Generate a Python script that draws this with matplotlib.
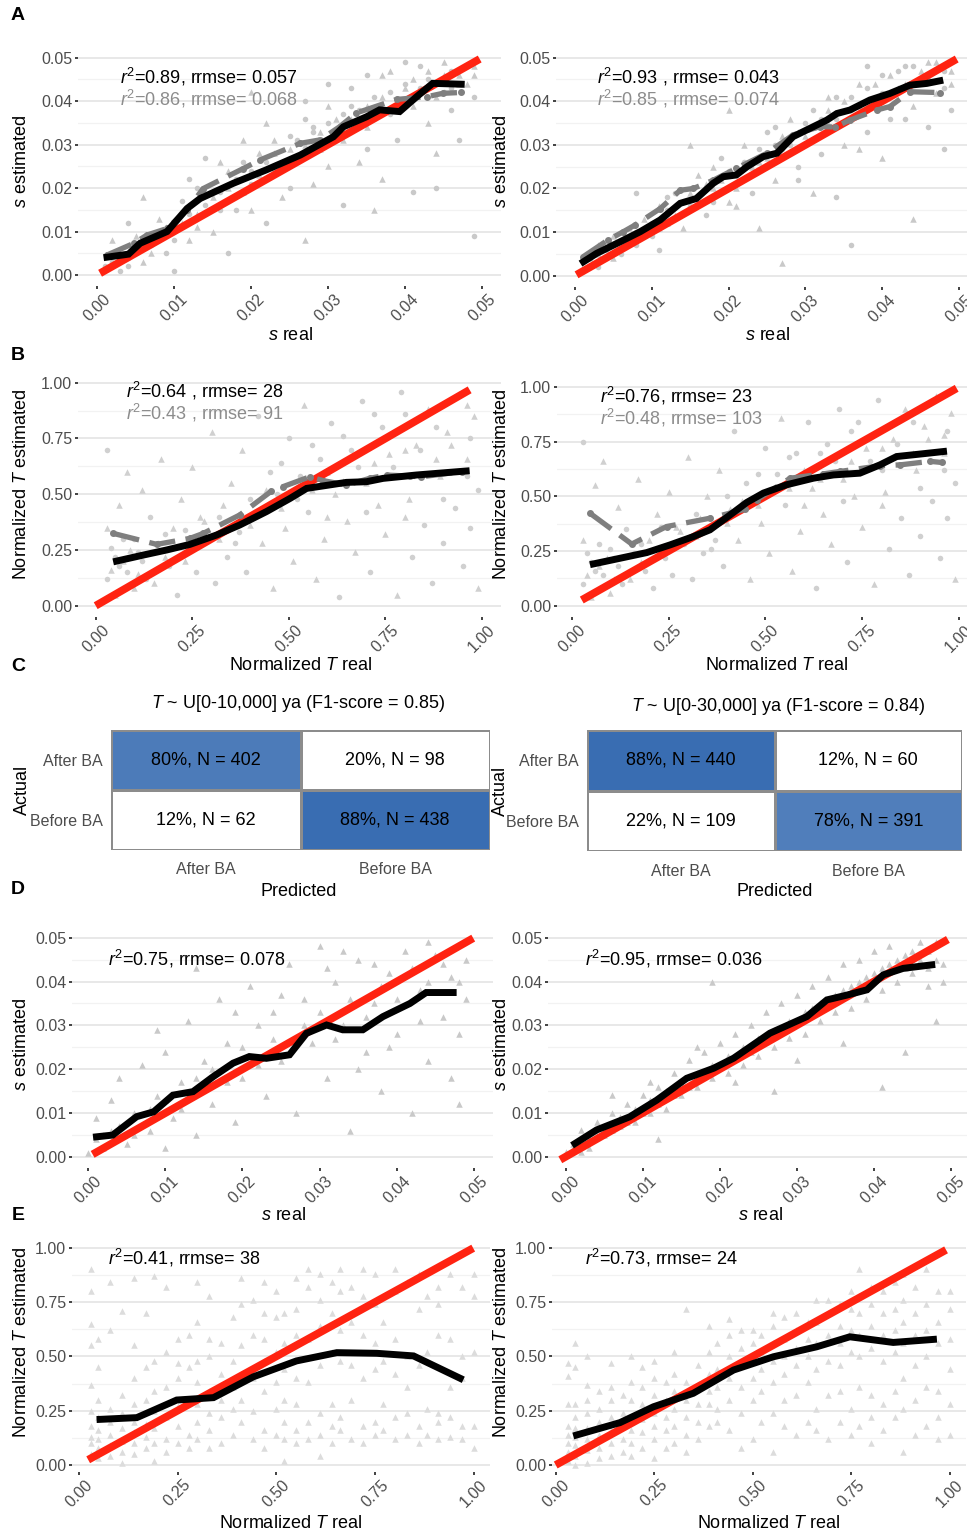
import numpy as np
import matplotlib
matplotlib.use('Agg')
import matplotlib.pyplot as plt
from matplotlib.colors import LinearSegmentedColormap

plt.rcParams['font.family'] = ['Liberation Sans', 'DejaVu Sans']
plt.rcParams['mathtext.fontset'] = 'custom'
plt.rcParams['mathtext.rm'] = 'Liberation Sans'
plt.rcParams['mathtext.it'] = 'Liberation Sans:italic'

# ---------------- data ----------------
s_ticks = [0.00, 0.01, 0.02, 0.03, 0.04, 0.05]
t_ticks = [0.00, 0.25, 0.50, 0.75, 1.00]

# panel A (left / right): binned means, black = method 1, grey dashed = method 2
A1_bx = [0.0013, 0.0041, 0.0056, 0.0091, 0.0117, 0.0134, 0.0177, 0.0220, 0.0264, 0.0307, 0.0320, 0.0350, 0.0367, 0.0393, 0.0415, 0.0436, 0.0473]
A1_by = [0.0041, 0.0048, 0.0073, 0.0100, 0.0153, 0.0176, 0.0211, 0.0242, 0.0276, 0.0318, 0.0341, 0.0364, 0.0380, 0.0376, 0.0410, 0.0441, 0.0439]
A1_gx = [0.0013, 0.0048, 0.0065, 0.0091, 0.0117, 0.0138, 0.0190, 0.0212, 0.0264, 0.0290, 0.0315, 0.0337, 0.0354, 0.0389, 0.0428, 0.0449, 0.0473]
A1_gy = [0.0046, 0.0073, 0.0092, 0.0107, 0.0150, 0.0199, 0.0245, 0.0265, 0.0303, 0.0311, 0.0341, 0.0373, 0.0383, 0.0404, 0.0410, 0.0418, 0.0420]
A2_bx = [0.0011, 0.0028, 0.0059, 0.0085, 0.0111, 0.0137, 0.0158, 0.0180, 0.0193, 0.0210, 0.0224, 0.0245, 0.0263, 0.0284, 0.0306, 0.0328, 0.0341, 0.0358, 0.0384, 0.0410, 0.0436, 0.0458, 0.0475]
A2_by = [0.0032, 0.0051, 0.0078, 0.0101, 0.0128, 0.0166, 0.0177, 0.0212, 0.0227, 0.0231, 0.0250, 0.0273, 0.0281, 0.0319, 0.0338, 0.0357, 0.0372, 0.0380, 0.0403, 0.0418, 0.0437, 0.0441, 0.0447]
A2_gx = [0.0011, 0.0043, 0.0063, 0.0078, 0.0111, 0.0137, 0.0154, 0.0180, 0.0210, 0.0250, 0.0284, 0.0319, 0.0339, 0.0358, 0.0393, 0.0410, 0.0436, 0.0475]
A2_gy = [0.0044, 0.0082, 0.0101, 0.0116, 0.0154, 0.0196, 0.0200, 0.0219, 0.0246, 0.0281, 0.0323, 0.0342, 0.0341, 0.0357, 0.0380, 0.0388, 0.0422, 0.0420]

# panel B
B1_bx = [0.054, 0.123, 0.184, 0.244, 0.313, 0.373, 0.442, 0.503, 0.546, 0.649, 0.701, 0.744, 0.830, 0.959]
B1_by = [0.200, 0.227, 0.250, 0.275, 0.317, 0.362, 0.422, 0.481, 0.526, 0.553, 0.556, 0.571, 0.586, 0.604]
B1_gx = [0.046, 0.158, 0.244, 0.278, 0.373, 0.455, 0.485, 0.554, 0.589, 0.649, 0.709, 0.753, 0.813, 0.843, 0.947]
B1_gy = [0.324, 0.275, 0.302, 0.324, 0.407, 0.514, 0.534, 0.578, 0.561, 0.541, 0.571, 0.586, 0.581, 0.578, 0.601]
B2_bx = [0.056, 0.125, 0.194, 0.254, 0.314, 0.357, 0.409, 0.452, 0.495, 0.555, 0.624, 0.676, 0.744, 0.796, 0.839, 0.908, 0.960]
B2_by = [0.191, 0.217, 0.243, 0.278, 0.316, 0.347, 0.415, 0.472, 0.515, 0.553, 0.583, 0.598, 0.606, 0.644, 0.682, 0.695, 0.705]
B2_gx = [0.047, 0.155, 0.245, 0.357, 0.448, 0.478, 0.564, 0.650, 0.693, 0.796, 0.848, 0.925, 0.955]
B2_gy = [0.423, 0.282, 0.362, 0.400, 0.441, 0.484, 0.583, 0.603, 0.614, 0.640, 0.644, 0.660, 0.655]

# panel D
D1_bx = [0.0011, 0.0032, 0.0063, 0.0085, 0.0110, 0.0136, 0.0162, 0.0188, 0.0209, 0.0231, 0.0261, 0.0283, 0.0309, 0.0330, 0.0356, 0.0382, 0.0417, 0.0438, 0.0473]
D1_by = [0.0046, 0.0050, 0.0092, 0.0103, 0.0141, 0.0149, 0.0183, 0.0214, 0.0229, 0.0225, 0.0233, 0.0282, 0.0301, 0.0290, 0.0290, 0.0320, 0.0350, 0.0375, 0.0375]
D2_bx = [0.0012, 0.0040, 0.0083, 0.0118, 0.0157, 0.0192, 0.0218, 0.0265, 0.0313, 0.0339, 0.0365, 0.0391, 0.0412, 0.0438, 0.0475]
D2_by = [0.0030, 0.0061, 0.0091, 0.0129, 0.0179, 0.0202, 0.0225, 0.0282, 0.0320, 0.0358, 0.0369, 0.0381, 0.0415, 0.0430, 0.0438]

# panel E
E1_bx = [0.054, 0.147, 0.248, 0.341, 0.442, 0.551, 0.653, 0.754, 0.847, 0.965]
E1_by = [0.210, 0.218, 0.299, 0.310, 0.406, 0.479, 0.517, 0.514, 0.502, 0.399]
E2_bx = [0.053, 0.163, 0.248, 0.349, 0.451, 0.552, 0.662, 0.746, 0.856, 0.958]
E2_by = [0.138, 0.195, 0.268, 0.330, 0.437, 0.498, 0.544, 0.590, 0.564, 0.578]

# x-range covered by the red y = x line in each panel
red_A1 = [0.0004, 0.0497]
red_A2 = [0.0002, 0.0497]
red_B1 = [0.000, 0.968]
red_B2 = [0.026, 0.994]
red_D1 = [0.0006, 0.0499]
red_D2 = [-0.0007, 0.0496]
red_E1 = [0.024, 0.998]
red_E2 = [0.000, 0.990]

# scatter clouds (hand-estimated sample of the grey points)
A1_pts = [(0.001, 0.002), (0.002, 0.005), (0.003, 0.001), (0.002, 0.008), (0.004, 0.004), (0.005, 0.009), (0.004, 0.012),
          (0.006, 0.003), (0.007, 0.007), (0.008, 0.013), (0.009, 0.005), (0.010, 0.011), (0.011, 0.017), (0.012, 0.008),
          (0.012, 0.022), (0.013, 0.014), (0.014, 0.027), (0.015, 0.010), (0.016, 0.019), (0.017, 0.024), (0.018, 0.015),
          (0.019, 0.031), (0.020, 0.021), (0.021, 0.028), (0.022, 0.012), (0.022, 0.035), (0.023, 0.024), (0.024, 0.018),
          (0.025, 0.032), (0.026, 0.027), (0.027, 0.040), (0.028, 0.021), (0.028, 0.033), (0.029, 0.029), (0.030, 0.044),
          (0.031, 0.036), (0.032, 0.016), (0.032, 0.031), (0.033, 0.039), (0.034, 0.026), (0.035, 0.046), (0.035, 0.034),
          (0.036, 0.041), (0.037, 0.022), (0.038, 0.037), (0.038, 0.047), (0.039, 0.031), (0.040, 0.043), (0.041, 0.019),
          (0.041, 0.039), (0.042, 0.048), (0.043, 0.035), (0.043, 0.045), (0.044, 0.028), (0.045, 0.042), (0.045, 0.049),
          (0.046, 0.038), (0.047, 0.046), (0.047, 0.031), (0.048, 0.044), (0.049, 0.041), (0.049, 0.048), (0.049, 0.009),
          (0.036, 0.015), (0.044, 0.020), (0.027, 0.008), (0.017, 0.005), (0.006, 0.018), (0.010, 0.001), (0.020, 0.042),
          (0.002, 0.003), (0.003, 0.004), (0.004, 0.002), (0.005, 0.006), (0.006, 0.008), (0.007, 0.005), (0.008, 0.009),
          (0.009, 0.011), (0.010, 0.008), (0.011, 0.012), (0.012, 0.014), (0.013, 0.011), (0.014, 0.016), (0.015, 0.018),
          (0.016, 0.015), (0.017, 0.020), (0.018, 0.022), (0.019, 0.019), (0.020, 0.024), (0.021, 0.023), (0.022, 0.026),
          (0.023, 0.028), (0.024, 0.025), (0.025, 0.029), (0.026, 0.031), (0.027, 0.030), (0.028, 0.034), (0.029, 0.033),
          (0.030, 0.035), (0.031, 0.033), (0.032, 0.037), (0.033, 0.036), (0.034, 0.038), (0.035, 0.039), (0.036, 0.036),
          (0.037, 0.041), (0.038, 0.042), (0.039, 0.040), (0.040, 0.044), (0.041, 0.045), (0.042, 0.043), (0.043, 0.047),
          (0.044, 0.044), (0.045, 0.046), (0.046, 0.047), (0.047, 0.044), (0.048, 0.048), (0.049, 0.046), (0.046, 0.043),
          (0.044, 0.041), (0.013, 0.020), (0.016, 0.026), (0.019, 0.026), (0.023, 0.031), (0.027, 0.036), (0.030, 0.039),
          (0.033, 0.043), (0.037, 0.046), (0.040, 0.049), (0.020, 0.015), (0.025, 0.020), (0.030, 0.025), (0.035, 0.029)]
A2_pts = [(0.001, 0.001), (0.002, 0.004), (0.003, 0.002), (0.003, 0.007), (0.004, 0.004), (0.005, 0.009), (0.006, 0.005),
          (0.007, 0.011), (0.008, 0.007), (0.009, 0.013), (0.010, 0.009), (0.011, 0.016), (0.011, 0.006), (0.012, 0.012),
          (0.013, 0.019), (0.014, 0.011), (0.015, 0.016), (0.016, 0.023), (0.017, 0.014), (0.018, 0.020), (0.019, 0.027),
          (0.020, 0.017), (0.021, 0.023), (0.022, 0.030), (0.023, 0.019), (0.024, 0.026), (0.025, 0.033), (0.026, 0.022),
          (0.027, 0.029), (0.028, 0.036), (0.029, 0.025), (0.030, 0.032), (0.031, 0.038), (0.031, 0.019), (0.032, 0.028),
          (0.033, 0.035), (0.034, 0.041), (0.035, 0.030), (0.036, 0.038), (0.037, 0.044), (0.038, 0.033), (0.039, 0.040),
          (0.040, 0.046), (0.040, 0.027), (0.041, 0.036), (0.042, 0.043), (0.043, 0.048), (0.044, 0.039), (0.045, 0.045),
          (0.046, 0.049), (0.046, 0.034), (0.047, 0.042), (0.048, 0.047), (0.049, 0.044), (0.049, 0.038), (0.024, 0.011),
          (0.034, 0.018), (0.015, 0.030), (0.008, 0.019), (0.044, 0.013), (0.036, 0.007), (0.027, 0.003), (0.048, 0.029),
          (0.020, 0.038), (0.002, 0.002), (0.003, 0.005), (0.004, 0.006), (0.005, 0.004), (0.006, 0.008), (0.007, 0.008),
          (0.008, 0.010), (0.009, 0.010), (0.010, 0.012), (0.011, 0.011), (0.012, 0.015), (0.013, 0.014), (0.014, 0.017),
          (0.015, 0.019), (0.016, 0.018), (0.017, 0.021), (0.018, 0.017), (0.019, 0.022), (0.020, 0.024), (0.021, 0.020),
          (0.022, 0.026), (0.023, 0.025), (0.024, 0.029), (0.025, 0.027), (0.026, 0.030), (0.027, 0.032), (0.028, 0.030),
          (0.029, 0.033), (0.030, 0.035), (0.031, 0.034), (0.032, 0.036), (0.033, 0.038), (0.034, 0.036), (0.035, 0.040),
          (0.036, 0.041), (0.037, 0.039), (0.038, 0.043), (0.039, 0.044), (0.040, 0.042), (0.041, 0.046), (0.042, 0.047),
          (0.043, 0.044), (0.044, 0.048), (0.045, 0.047), (0.046, 0.045), (0.047, 0.049), (0.048, 0.043), (0.049, 0.047),
          (0.012, 0.018), (0.018, 0.025), (0.026, 0.034), (0.033, 0.041), (0.038, 0.048), (0.021, 0.016), (0.029, 0.022),
          (0.037, 0.029), (0.043, 0.036)]
B1_pts = [(0.03, 0.12), (0.03, 0.35), (0.03, 0.70), (0.05, 0.05), (0.05, 0.22), (0.06, 0.45), (0.08, 0.15), (0.08, 0.60),
          (0.10, 0.30), (0.10, 0.08), (0.12, 0.20), (0.12, 0.52), (0.14, 0.40), (0.15, 0.10), (0.16, 0.28), (0.17, 0.66),
          (0.19, 0.18), (0.20, 0.35), (0.21, 0.05), (0.22, 0.48), (0.24, 0.25), (0.25, 0.62), (0.26, 0.15), (0.28, 0.38),
          (0.29, 0.30), (0.30, 0.78), (0.31, 0.10), (0.33, 0.45), (0.34, 0.22), (0.35, 0.55), (0.37, 0.33), (0.38, 0.70),
          (0.39, 0.15), (0.41, 0.42), (0.42, 0.85), (0.43, 0.28), (0.45, 0.60), (0.46, 0.08), (0.47, 0.50), (0.49, 0.35),
          (0.50, 0.75), (0.51, 0.20), (0.53, 0.58), (0.54, 0.90), (0.55, 0.42), (0.57, 0.12), (0.58, 0.66), (0.59, 0.30),
          (0.61, 0.82), (0.62, 0.50), (0.63, 0.04), (0.65, 0.38), (0.66, 0.70), (0.67, 0.24), (0.69, 0.92), (0.70, 0.55),
          (0.71, 0.15), (0.73, 0.45), (0.74, 0.80), (0.75, 0.32), (0.77, 0.62), (0.78, 0.05), (0.79, 0.96), (0.81, 0.48),
          (0.82, 0.22), (0.83, 0.72), (0.85, 0.36), (0.86, 0.88), (0.87, 0.10), (0.89, 0.58), (0.90, 0.28), (0.91, 0.78),
          (0.93, 0.44), (0.94, 0.95), (0.95, 0.18), (0.96, 0.66), (0.97, 0.35), (0.98, 0.85), (0.99, 0.52), (0.99, 0.08),
          (0.06, 0.18), (0.09, 0.25), (0.13, 0.12), (0.27, 0.40), (0.36, 0.28), (0.44, 0.52), (0.52, 0.48), (0.60, 0.60),
          (0.68, 0.62), (0.76, 0.68), (0.84, 0.70), (0.92, 0.72), (0.97, 0.75), (0.04, 0.16), (0.04, 0.26), (0.07, 0.20),
          (0.07, 0.30), (0.11, 0.14), (0.11, 0.24), (0.18, 0.22), (0.18, 0.32), (0.23, 0.20), (0.23, 0.34), (0.32, 0.30),
          (0.32, 0.40), (0.40, 0.36), (0.40, 0.48), (0.48, 0.44), (0.48, 0.64), (0.56, 0.52), (0.56, 0.72), (0.64, 0.56),
          (0.64, 0.76), (0.72, 0.64), (0.72, 0.86), (0.80, 0.70), (0.80, 0.86), (0.88, 0.66), (0.88, 0.80), (0.96, 0.90),
          (0.96, 0.58), (0.60, 0.40), (0.70, 0.42), (0.80, 0.40), (0.90, 0.48)]
B2_pts = [(0.03, 0.10), (0.03, 0.30), (0.03, 0.75), (0.05, 0.04), (0.05, 0.20), (0.06, 0.55), (0.08, 0.14), (0.08, 0.66),
          (0.10, 0.26), (0.10, 0.06), (0.12, 0.18), (0.12, 0.45), (0.14, 0.35), (0.15, 0.12), (0.16, 0.24), (0.17, 0.58),
          (0.19, 0.16), (0.20, 0.30), (0.21, 0.08), (0.22, 0.42), (0.24, 0.22), (0.25, 0.52), (0.26, 0.14), (0.28, 0.34),
          (0.29, 0.28), (0.30, 0.68), (0.31, 0.12), (0.33, 0.40), (0.34, 0.24), (0.35, 0.50), (0.37, 0.30), (0.38, 0.62),
          (0.39, 0.18), (0.41, 0.44), (0.42, 0.80), (0.43, 0.30), (0.45, 0.56), (0.46, 0.12), (0.47, 0.48), (0.49, 0.38),
          (0.50, 0.72), (0.51, 0.24), (0.53, 0.60), (0.54, 0.86), (0.55, 0.46), (0.57, 0.16), (0.58, 0.70), (0.59, 0.34),
          (0.61, 0.84), (0.62, 0.54), (0.63, 0.08), (0.65, 0.42), (0.66, 0.74), (0.67, 0.28), (0.69, 0.90), (0.70, 0.58),
          (0.71, 0.20), (0.73, 0.50), (0.74, 0.84), (0.75, 0.36), (0.77, 0.66), (0.78, 0.10), (0.79, 0.94), (0.81, 0.52),
          (0.82, 0.26), (0.83, 0.76), (0.85, 0.40), (0.86, 0.90), (0.87, 0.14), (0.89, 0.62), (0.90, 0.32), (0.91, 0.82),
          (0.93, 0.48), (0.94, 0.96), (0.95, 0.22), (0.96, 0.70), (0.97, 0.40), (0.98, 0.88), (0.99, 0.56), (0.99, 0.12),
          (0.06, 0.16), (0.09, 0.22), (0.13, 0.10), (0.27, 0.36), (0.36, 0.26), (0.44, 0.48), (0.52, 0.52), (0.60, 0.62),
          (0.68, 0.66), (0.76, 0.72), (0.84, 0.74), (0.92, 0.76), (0.97, 0.80), (0.04, 0.14), (0.04, 0.24), (0.07, 0.18),
          (0.07, 0.28), (0.11, 0.12), (0.11, 0.22), (0.18, 0.20), (0.18, 0.28), (0.23, 0.26), (0.23, 0.36), (0.32, 0.32),
          (0.32, 0.42), (0.40, 0.38), (0.40, 0.50), (0.48, 0.46), (0.48, 0.60), (0.56, 0.54), (0.56, 0.68), (0.64, 0.58),
          (0.64, 0.70), (0.72, 0.66), (0.72, 0.80), (0.80, 0.72), (0.80, 0.62), (0.88, 0.70), (0.88, 0.84), (0.96, 0.78),
          (0.96, 0.62), (0.60, 0.46), (0.70, 0.48), (0.80, 0.46), (0.90, 0.54)]
D1_pts = [(0.000, 0.001), (0.001, 0.004), (0.001, 0.009), (0.002, 0.002), (0.003, 0.006), (0.003, 0.013), (0.004, 0.018),
          (0.005, 0.003), (0.006, 0.010), (0.007, 0.021), (0.008, 0.006), (0.009, 0.014), (0.010, 0.002), (0.010, 0.024),
          (0.011, 0.009), (0.012, 0.017), (0.013, 0.031), (0.014, 0.005), (0.015, 0.022), (0.016, 0.012), (0.017, 0.036),
          (0.018, 0.026), (0.019, 0.008), (0.020, 0.018), (0.021, 0.039), (0.022, 0.030), (0.023, 0.014), (0.024, 0.033),
          (0.025, 0.022), (0.026, 0.044), (0.027, 0.010), (0.028, 0.036), (0.029, 0.026), (0.030, 0.048), (0.031, 0.018),
          (0.032, 0.040), (0.033, 0.030), (0.034, 0.006), (0.035, 0.045), (0.036, 0.024), (0.037, 0.035), (0.038, 0.015),
          (0.039, 0.042), (0.040, 0.028), (0.041, 0.047), (0.042, 0.010), (0.043, 0.038), (0.044, 0.022), (0.045, 0.046),
          (0.046, 0.032), (0.047, 0.018), (0.047, 0.041), (0.048, 0.028), (0.049, 0.045), (0.049, 0.036), (0.048, 0.012),
          (0.044, 0.049), (0.033, 0.047), (0.014, 0.043), (0.009, 0.029), (0.002, 0.005), (0.004, 0.007), (0.006, 0.005),
          (0.008, 0.011), (0.010, 0.013), (0.012, 0.011), (0.014, 0.018), (0.016, 0.020), (0.018, 0.017), (0.020, 0.025),
          (0.022, 0.021), (0.024, 0.027), (0.026, 0.024), (0.028, 0.030), (0.030, 0.033), (0.032, 0.027), (0.034, 0.036),
          (0.036, 0.032), (0.038, 0.039), (0.040, 0.036), (0.042, 0.043), (0.044, 0.040), (0.046, 0.044), (0.048, 0.040),
          (0.019, 0.033), (0.025, 0.037), (0.031, 0.043), (0.037, 0.044), (0.043, 0.031), (0.039, 0.025), (0.035, 0.020)]
D2_pts = [(0.000, 0.001), (0.001, 0.003), (0.002, 0.001), (0.002, 0.006), (0.003, 0.004), (0.004, 0.008), (0.005, 0.005),
          (0.006, 0.010), (0.007, 0.007), (0.008, 0.012), (0.009, 0.008), (0.010, 0.014), (0.011, 0.010), (0.012, 0.016),
          (0.013, 0.011), (0.014, 0.019), (0.015, 0.014), (0.016, 0.022), (0.017, 0.016), (0.018, 0.024), (0.019, 0.018),
          (0.020, 0.026), (0.021, 0.019), (0.022, 0.028), (0.023, 0.021), (0.024, 0.030), (0.025, 0.023), (0.026, 0.033),
          (0.027, 0.025), (0.028, 0.035), (0.029, 0.027), (0.030, 0.037), (0.031, 0.028), (0.032, 0.039), (0.033, 0.031),
          (0.034, 0.041), (0.035, 0.033), (0.036, 0.044), (0.037, 0.034), (0.038, 0.045), (0.039, 0.036), (0.040, 0.047),
          (0.041, 0.038), (0.042, 0.048), (0.043, 0.040), (0.044, 0.046), (0.045, 0.042), (0.046, 0.049), (0.047, 0.043),
          (0.048, 0.045), (0.049, 0.040), (0.048, 0.031), (0.041, 0.016), (0.036, 0.026), (0.019, 0.040), (0.027, 0.015),
          (0.012, 0.004), (0.044, 0.024), (0.006, 0.014), (0.001, 0.002), (0.003, 0.002), (0.004, 0.005), (0.005, 0.007),
          (0.006, 0.006), (0.007, 0.009), (0.008, 0.008), (0.009, 0.011), (0.010, 0.010), (0.011, 0.013), (0.012, 0.012),
          (0.013, 0.015), (0.014, 0.014), (0.015, 0.017), (0.016, 0.016), (0.017, 0.019), (0.018, 0.019), (0.019, 0.021),
          (0.020, 0.021), (0.021, 0.023), (0.022, 0.023), (0.023, 0.025), (0.024, 0.024), (0.025, 0.027), (0.026, 0.027),
          (0.027, 0.029), (0.028, 0.029), (0.029, 0.031), (0.030, 0.031), (0.031, 0.033), (0.032, 0.034), (0.033, 0.035),
          (0.034, 0.035), (0.035, 0.037), (0.036, 0.038), (0.037, 0.039), (0.038, 0.040), (0.039, 0.041), (0.040, 0.042),
          (0.041, 0.043), (0.042, 0.044), (0.043, 0.045), (0.044, 0.043), (0.045, 0.047), (0.046, 0.045), (0.047, 0.047),
          (0.048, 0.049), (0.049, 0.044), (0.047, 0.039), (0.030, 0.022), (0.022, 0.017), (0.017, 0.025), (0.011, 0.017)]

# panel E points sit on discrete columns of T real
E_cols_x = [0.03, 0.05, 0.08, 0.11, 0.14, 0.17, 0.19, 0.22, 0.25, 0.28, 0.30, 0.33, 0.36, 0.39, 0.41, 0.44, 0.47, 0.50,
            0.52, 0.55, 0.58, 0.61, 0.64, 0.66, 0.69, 0.72, 0.75, 0.77, 0.80, 0.83, 0.86, 0.88, 0.91, 0.94, 0.97, 1.00]
E1_cols_y = [[0.05, 0.10, 0.13, 0.18, 0.25, 0.37, 0.55, 0.65, 0.80, 0.90], [0.03, 0.08, 0.12, 0.16, 0.22, 0.30, 0.45, 0.58],
             [0.04, 0.09, 0.14, 0.20, 0.26, 0.62, 0.84], [0.01, 0.06, 0.11, 0.17, 0.24, 0.32, 0.71],
             [0.05, 0.10, 0.15, 0.20, 0.28, 0.40, 0.55, 0.86], [0.08, 0.13, 0.19, 0.30, 0.45, 0.70],
             [0.02, 0.10, 0.17, 0.25, 0.34, 0.48, 0.87], [0.06, 0.12, 0.22, 0.36, 0.52, 0.82],
             [0.10, 0.18, 0.27, 0.40, 0.47, 0.58], [0.08, 0.14, 0.30, 0.45, 0.60],
             [0.12, 0.20, 0.28, 0.38, 0.48, 0.66, 0.84], [0.08, 0.16, 0.24, 0.34, 0.50, 0.58, 0.78],
             [0.10, 0.22, 0.30, 0.42, 0.56], [0.14, 0.26, 0.36, 0.48, 0.68], [0.20, 0.30, 0.42, 0.55, 0.74, 0.86],
             [0.12, 0.25, 0.40, 0.60, 0.76], [0.08, 0.16, 0.34, 0.48, 0.58, 0.70, 0.84],
             [0.14, 0.26, 0.38, 0.52, 0.68, 0.80], [0.02, 0.12, 0.20, 0.30, 0.44, 0.56, 0.70],
             [0.10, 0.16, 0.28, 0.40, 0.60, 0.72, 0.86], [0.12, 0.20, 0.38, 0.58, 0.82, 0.90],
             [0.04, 0.14, 0.24, 0.46, 0.64, 0.76, 0.88], [0.10, 0.18, 0.28, 0.52, 0.70, 0.84],
             [0.16, 0.22, 0.48, 0.62, 0.80, 0.90], [0.12, 0.30, 0.46, 0.66, 0.82],
             [0.10, 0.18, 0.40, 0.60, 0.78, 0.90], [0.14, 0.20, 0.44, 0.56, 0.74, 0.88], [0.16, 0.28, 0.48, 0.66],
             [0.12, 0.22, 0.42, 0.58, 0.80, 0.90], [0.14, 0.24, 0.36, 0.50, 0.84], [0.10, 0.18, 0.46, 0.72, 0.88],
             [0.14, 0.26, 0.52, 0.78], [0.12, 0.20, 0.24, 0.60, 0.74, 0.82], [0.13, 0.22, 0.36, 0.58, 0.88],
             [0.12, 0.18, 0.40, 0.50, 0.82], [0.08, 0.18, 0.52, 0.78, 0.88]]
E2_cols_y = [[0.02, 0.06, 0.10, 0.14, 0.18, 0.28, 0.41, 0.47], [0.00, 0.04, 0.09, 0.13, 0.17, 0.22, 0.28, 0.45, 0.56],
             [0.01, 0.07, 0.12, 0.17, 0.24, 0.30, 0.37, 0.50], [0.03, 0.08, 0.14, 0.20, 0.26, 0.34],
             [0.04, 0.10, 0.16, 0.22, 0.30, 0.36, 0.47], [0.06, 0.12, 0.18, 0.24, 0.32],
             [0.04, 0.10, 0.16, 0.22, 0.30, 0.38, 0.50], [0.08, 0.15, 0.21, 0.28, 0.36, 0.45],
             [0.03, 0.12, 0.18, 0.24, 0.32, 0.40, 0.48], [0.08, 0.16, 0.22, 0.30, 0.38],
             [0.10, 0.18, 0.26, 0.34, 0.42, 0.52], [0.06, 0.14, 0.22, 0.30, 0.38, 0.72],
             [0.12, 0.20, 0.28, 0.36, 0.46], [0.18, 0.28, 0.34, 0.42, 0.52, 0.64], [0.20, 0.26, 0.36, 0.44, 0.56],
             [0.16, 0.30, 0.40, 0.50, 0.60, 0.67], [0.08, 0.24, 0.36, 0.46, 0.54, 0.62],
             [0.12, 0.30, 0.40, 0.48, 0.56, 0.62], [0.20, 0.34, 0.44, 0.52, 0.60],
             [0.06, 0.24, 0.38, 0.48, 0.56, 0.64, 0.70], [0.18, 0.30, 0.42, 0.50, 0.58, 0.68],
             [0.14, 0.32, 0.46, 0.54, 0.62, 0.70], [0.20, 0.38, 0.50, 0.58, 0.66],
             [0.16, 0.26, 0.44, 0.56, 0.66, 0.76], [0.12, 0.32, 0.48, 0.60, 0.70, 0.76],
             [0.20, 0.34, 0.46, 0.56, 0.64, 0.74], [0.14, 0.26, 0.52, 0.62, 0.72, 0.80],
             [0.18, 0.36, 0.50, 0.60, 0.70, 0.78, 0.90], [0.10, 0.22, 0.32, 0.54, 0.64, 0.74, 0.82],
             [0.16, 0.28, 0.48, 0.60, 0.70, 0.80], [0.22, 0.34, 0.52, 0.62, 0.72, 0.84],
             [0.06, 0.26, 0.40, 0.56, 0.66, 0.76, 0.88], [0.14, 0.30, 0.46, 0.60, 0.70, 0.82],
             [0.18, 0.36, 0.50, 0.62, 0.74, 0.90], [0.12, 0.22, 0.34, 0.56, 0.66, 0.80],
             [0.14, 0.28, 0.44, 0.58, 0.72, 0.80]]

# fit statistics
stats_A1 = [r'$r^2$=0.89, rrmse= 0.057', r'$r^2$=0.86, rrmse= 0.068']
stats_A2 = [r'$r^2$=0.93 , rrmse= 0.043', r'$r^2$=0.85 , rrmse= 0.074']
stats_B1 = [r'$r^2$=0.64 , rrmse= 28', r'$r^2$=0.43 , rrmse= 91']
stats_B2 = [r'$r^2$=0.76, rrmse= 23', r'$r^2$=0.48, rrmse= 103']
stats_D1 = [r'$r^2$=0.75, rrmse= 0.078']
stats_D2 = [r'$r^2$=0.95, rrmse= 0.036']
stats_E1 = [r'$r^2$=0.41, rrmse= 38']
stats_E2 = [r'$r^2$=0.73, rrmse= 24']

# panel C confusion matrices (rows = actual, cols = predicted)
cm_labels = ['After BA', 'Before BA']
cm1_pct = [[0.80, 0.20], [0.12, 0.88]]
cm1_n = [[402, 98], [62, 438]]
cm2_pct = [[0.88, 0.12], [0.22, 0.78]]
cm2_n = [[440, 60], [109, 391]]
cm1_title = r'$T$ ~ U[0-10,000] ya (F1-score = 0.85)'
cm2_title = r'$T$ ~ U[0-30,000] ya (F1-score = 0.84)'

# ---------------- drawing ----------------
W, H = 967, 1533
fig = plt.figure(figsize=(W / 100, H / 100), dpi=100)

RED = '#ff2311'
PT = '#c9c9c9'
TICKC = '#4d4d4d'


def make_ax(xpx, ypx, d, xlim, ylim):
    sx = (xpx[1] - xpx[0]) / (d[1] - d[0])
    left = xpx[0] + (xlim[0] - d[0]) * sx
    right = xpx[0] + (xlim[1] - d[0]) * sx
    sy = (ypx[0] - ypx[1]) / (d[1] - d[0])
    bottom = ypx[0] - (ylim[0] - d[0]) * sy
    top = ypx[0] - (ylim[1] - d[0]) * sy
    ax = fig.add_axes([left / W, 1 - bottom / H, (right - left) / W, (bottom - top) / H])
    ax.set_xlim(xlim)
    ax.set_ylim(ylim)
    return ax


def style(ax, ticks):
    ax.set_xticks(ticks)
    ax.set_yticks(ticks)
    ax.set_xticklabels(['%.2f' % t for t in ticks], rotation=45)
    ax.set_yticklabels(['%.2f' % t for t in ticks])
    mids = [(a + b) / 2 for a, b in zip(ticks[:-1], ticks[1:])]
    ax.set_yticks(mids, minor=True)
    ax.grid(axis='y', which='major', color='#e6e6e6', lw=1.3)
    ax.grid(axis='y', which='minor', color='#f2f2f2', lw=0.9)
    ax.set_axisbelow(True)
    for s in ax.spines.values():
        s.set_visible(False)
    ax.tick_params(which='major', length=2, width=1.3, color='#333333', labelsize=11.5,
                   labelcolor=TICKC, pad=2)
    ax.tick_params(which='minor', length=0)
    ax.patch.set_alpha(0)


def scatter_panel(pos, ticks, lims, pts, red, bx, by, gx=None, gy=None, tri_only=False, pcol=PT):
    ax = make_ax(pos[0], pos[1], (ticks[0], ticks[-1]), lims[0], lims[1])
    style(ax, ticks)
    px = np.array([p[0] for p in pts])
    py = np.array([p[1] for p in pts])
    if tri_only:
        ax.scatter(px, py, s=22, marker='^', color=pcol, lw=0)
    else:
        ax.scatter(px[::2], py[::2], s=16, marker='o', color=pcol, lw=0)
        ax.scatter(px[1::2], py[1::2], s=22, marker='^', color=pcol, lw=0)
    ax.plot(red, red, color=RED, lw=5.6, solid_capstyle='butt', zorder=3)
    if gx is not None:
        ax.plot(gx, gy, color='#7f7f7f', lw=3.8, dashes=(5, 2), solid_capstyle='butt', zorder=4)
        ax.plot(gx, gy, 'o', color='#7f7f7f', ms=4, zorder=4)
    ax.plot(bx, by, color='black', lw=5, solid_joinstyle='miter', zorder=5)
    return ax


def ftext(x, y, s, **kw):
    fig.text(x / W, 1 - y / H, s, **kw)


s_lim = [(-0.0025, 0.0525), (-0.0025, 0.0525)]

# A
scatter_panel(((97, 482), (275, 57.7)), s_ticks, s_lim, A1_pts, red_A1, A1_bx, A1_by, A1_gx, A1_gy)
scatter_panel(((575, 959), (275.7, 57.7)), s_ticks, s_lim, A2_pts, red_A2, A2_bx, A2_by, A2_gx, A2_gy)
# B
scatter_panel(((95.7, 482), (605.7, 382.7)), t_ticks, [(-0.046, 1.05), (-0.05, 1.05)], B1_pts, red_B1,
              B1_bx, B1_by, B1_gx, B1_gy, pcol='#d0d0d0')
scatter_panel(((571.7, 959), (605.7, 387)), t_ticks, [(-0.039, 1.05), (-0.05, 1.05)], B2_pts, red_B2,
              B2_bx, B2_by, B2_gx, B2_gy, pcol='#d0d0d0')
# D
scatter_panel(((88, 474), (1157, 937.7)), s_ticks, [(-0.0021, 0.0525), (-0.0025, 0.0525)], D1_pts, red_D1,
              D1_bx, D1_by, tri_only=True)
scatter_panel(((565.7, 951), (1156.7, 937.7)), s_ticks, [(-0.0023, 0.0525), (-0.0025, 0.0525)], D2_pts, red_D2,
              D2_bx, D2_by, tri_only=True)
# E
E1_pts = [(x, y) for x, ys in zip(E_cols_x, E1_cols_y) for y in ys]
E2_pts = [(x, y) for x, ys in zip(E_cols_x, E2_cols_y) for y in ys]
scatter_panel(((78.7, 474), (1465, 1247.7)), t_ticks, [(-0.018, 1.04), (-0.03, 1.03)], E1_pts, red_E1,
              E1_bx, E1_by, tri_only=True, pcol='#dcdcdc')
scatter_panel(((555.7, 950), (1465, 1247.7)), t_ticks, [(-0.01, 1.04), (-0.03, 1.03)], E2_pts, red_E2,
              E2_bx, E2_by, tri_only=True, pcol='#dcdcdc')

# statistics text
for (x, y), lines in [((120, 77), stats_A1), ((597, 77), stats_A2), ((126, 391), stats_B1),
                      ((600, 396), stats_B2), ((108, 959), stats_D1), ((585, 959), stats_D2),
                      ((108, 1258), stats_E1), ((585, 1258), stats_E2)]:
    for i, s in enumerate(lines):
        ftext(x, y + 22 * i, s, fontsize=13, color='black' if i == 0 else '#8c8c8c', va='center', ha='left')

# axis titles
for x, y in [(290, 336), (767, 336), (283, 1215), (760, 1215)]:
    ftext(x, y, r'$s$ real', fontsize=13, ha='center', va='center')
for x, y in [(300, 665), (776, 665), (290, 1523), (768, 1523)]:
    ftext(x, y, r'Normalized $T$ real', fontsize=13, ha='center', va='center')
for x, y in [(22, 162), (501, 162), (22, 1045), (501, 1045)]:
    ftext(x, y, r'$s$ estimated', fontsize=13, ha='center', va='center', rotation=90)
for x, y in [(22, 485), (501, 485), (22, 1343), (501, 1343)]:
    ftext(x, y, r'Normalized $T$ estimated', fontsize=13, ha='center', va='center', rotation=90)

# panel letters
for letter, y in zip('ABCDE', [16, 356, 667, 890, 1216]):
    ftext(18, y, letter, fontsize=14, fontweight='bold', ha='center', va='center')

# C: confusion matrices
blues = LinearSegmentedColormap.from_list('wb', ['#ffffff', '#1f5aa8'])
blues.set_bad('white')


def conf_panel(box, pct, n, title, title_xy, actual_x, pred_xy):
    l, t, r, b = box
    ax = fig.add_axes([l / W, 1 - b / H, (r - l) / W, (b - t) / H])
    vals = np.ma.masked_less(np.array(pct), 0.5)
    ax.pcolormesh(vals, cmap=blues, vmin=0, vmax=1, edgecolors='#8c8c8c', linewidth=0.8)
    ax.set_xlim(0, 2)
    ax.set_ylim(2, 0)
    for i in range(2):
        for j in range(2):
            ax.text(j + 0.5, i + 0.5, '%d%%, N = %d' % (round(pct[i][j] * 100), n[i][j]),
                    ha='center', va='center', fontsize=13)
    ax.set_xticks([0.5, 1.5])
    ax.set_xticklabels(cm_labels)
    ax.set_yticks([0.5, 1.5])
    ax.set_yticklabels(cm_labels)
    ax.tick_params(length=0, labelsize=11.5, labelcolor=TICKC)
    ax.tick_params(axis='x', pad=9)
    ax.tick_params(axis='y', pad=6)
    for s in ax.spines.values():
        s.set_visible(False)
    ftext(title_xy[0], title_xy[1], title, fontsize=13, ha='center', va='center')
    ftext(actual_x, (t + b) / 2, 'Actual', fontsize=13, ha='center', va='center', rotation=90)
    ftext(pred_xy[0], pred_xy[1], 'Predicted', fontsize=13, ha='center', va='center')


conf_panel((111, 730, 490, 850), cm1_pct, cm1_n, cm1_title, (298, 704), 22, (299, 891))
conf_panel((587, 730, 962, 851), cm2_pct, cm2_n, cm2_title, (778, 707), 500, (775, 891))

fig.savefig('out.png', dpi=100)
